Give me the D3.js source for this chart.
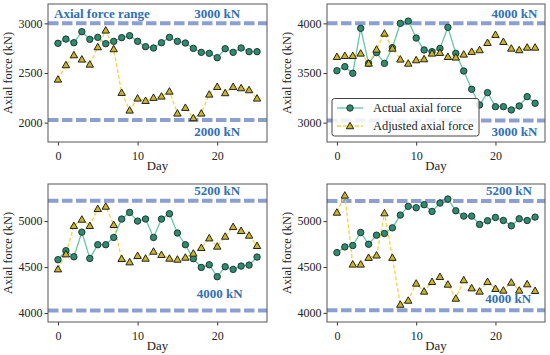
<!DOCTYPE html>
<html><head><meta charset="utf-8">
<script src="https://cdn.jsdelivr.net/npm/d3@7"></script>
<style>body{margin:0;background:#fff}svg{display:block}text{font-family:"Liberation Serif","Times New Roman",serif}</style>
</head><body><svg id="c" width="550" height="355"></svg>
<script>
const days = d3.range(0, 26);
const actual1 = [2799,2842,2805,2916,2839,2859,2795,2819,2856,2876,2819,2765,2752,2805,2859,2819,2802,2748,2708,2698,2654,2745,2708,2752,2715,2715];
const adjusted1 = [2436,2581,2681,2638,2587,2762,2930,2742,2302,2124,2245,2221,2252,2265,2315,2094,2151,2047,2094,2285,2362,2299,2362,2349,2329,2245];
const actual2 = [3523,3564,3497,3950,3597,3705,3597,3755,4000,4023,3852,3732,3715,3748,3960,3698,3520,3336,3178,3302,3161,3161,3128,3168,3262,3195];
const adjusted2 = [3664,3674,3674,3698,3597,3738,3899,3748,3638,3597,3631,3641,3698,3705,3664,3658,3688,3715,3732,3805,3886,3815,3748,3732,3758,3758];
const actual3 = [4580,4678,4612,4880,4594,4743,4743,4822,5022,5094,5000,5022,4822,5022,5080,4870,4743,4591,4496,4525,4395,4504,4475,4511,4522,4609];
const adjusted3 = [4478,4641,4949,5018,4949,5134,5159,4960,4591,4554,4623,4594,4670,4634,4594,4583,4605,4649,4710,4815,4725,4833,4938,4895,4844,4732];
const actual4 = [4657,4719,4734,4876,4748,4847,4865,4927,5066,5161,5146,5179,5106,5197,5241,5113,5055,5055,4964,5004,5040,5007,4949,5026,5007,5044];
const adjusted4 = [5095,5281,4529,4529,4602,4628,5088,4602,4091,4135,4321,4234,4339,4394,4310,4157,4358,4270,4234,4339,4263,4245,4332,4245,4314,4241];
const upperLimits = [3000, 4000, 5220, 5220];
const lowerLimits = [2027, 3022, 4028, 4028];
const upperLabels = ["3000 kN", "4000 kN", "5200 kN", "5200 kN"];
const lowerLabels = ["2000 kN", "3000 kN", "4000 kN", "4000 kN"];
const yTicks1 = [2000, 2500, 3000];
const yTicks2 = [3000, 3500, 4000];
const yTicks3 = [4000, 4500, 5000];
const yTicks4 = [4000, 4500, 5000];
const xTicks = [0, 10, 20];
const yDomains = [[1805, 3195], [2805, 4195], [3903, 5403], [3900, 5405]];
const seriesNames = ["Actual axial force", "Adjusted axial force"];
const rangeTitle = "Axial force range";

const svg = d3.select("#c");
const actualColor = "#66c5a6", actualFill = "#2f8a70";
const adjColor = "#f3d447", adjFill = "#cbb61e";
const limitColor = "#8b9fd1", annColor = "#2f6fb3";

const panels = [
  {l:48, r:267, t:4, b:142, actual:actual1, adj:adjusted1, yt:yTicks1, ux:20, uoff:-5.7, lx:20, loff:16, title:true},
  {l:327, r:545, t:4, b:142, actual:actual2, adj:adjusted2, yt:yTicks2, ux:22.4, uoff:-5.7, lx:22.4, loff:15.3, legend:true},
  {l:48, r:267, t:184, b:322, actual:actual3, adj:adjusted3, yt:yTicks3, ux:20, uoff:-5.5, lx:20.3, loff:-13},
  {l:327, r:545, t:184, b:322, actual:actual4, adj:adjusted4, yt:yTicks4, ux:21.7, uoff:-5.7, lx:21.6, loff:-7}
];

function triangle(g, x, y) {
  const s = 3.7;
  g.append("path").attr("d", `M${x},${y - s}L${x + s},${y + s*0.75}L${x - s},${y + s*0.75}Z`)
    .attr("fill", adjFill).attr("stroke", "#222").attr("stroke-width", 1);
}

panels.forEach((p, i) => {
  const x = d3.scaleLinear().domain([-1.25, 26.25]).range([p.l, p.r]);
  const y = d3.scaleLinear().domain(yDomains[i]).range([p.b, p.t]);
  const g = svg.append("g");
  const clipId = "clip" + i;
  svg.append("clipPath").attr("id", clipId).append("rect")
    .attr("x", p.l).attr("y", p.t).attr("width", p.r - p.l).attr("height", p.b - p.t);
  const inner = g.append("g").attr("clip-path", `url(#${clipId})`);

  // axes
  const xa = g.append("g").attr("transform", `translate(0,${p.b})`)
    .call(d3.axisBottom(x).tickValues(xTicks).tickSize(3.5).tickPadding(3).tickFormat(d3.format("d")));
  const ya = g.append("g").attr("transform", `translate(${p.l},0)`)
    .call(d3.axisLeft(y).tickValues(p.yt).tickSize(3.5).tickPadding(2).tickFormat(d3.format("d")));
  [xa, ya].forEach(a => {
    a.select(".domain").remove();
    a.selectAll("line").attr("stroke", "#333");
    a.selectAll("text").attr("font-size", 12).attr("fill", "#222");
  });
  xa.selectAll("text").attr("dy", "0.95em");

  // limit lines
  [upperLimits[i], lowerLimits[i]].forEach(v => {
    inner.append("line").attr("x1", p.l).attr("x2", p.r).attr("y1", y(v)).attr("y2", y(v))
      .attr("stroke", limitColor).attr("stroke-width", 4).attr("stroke-dasharray", "10.5,3.5");
  });

  // series lines
  const line = d3.line().x((d, j) => x(days[j])).y(d => y(d));
  inner.append("path").datum(p.actual).attr("d", line).attr("fill", "none")
    .attr("stroke", actualColor).attr("stroke-width", 1.3);
  inner.append("path").datum(p.adj).attr("d", line).attr("fill", "none")
    .attr("stroke", adjColor).attr("stroke-width", 1.3).attr("stroke-dasharray", "4,2");
  p.actual.forEach((v, j) => {
    inner.append("circle").attr("cx", x(days[j])).attr("cy", y(v)).attr("r", 3.2)
      .attr("fill", actualFill).attr("stroke", "#1d3a33").attr("stroke-width", 1);
  });
  p.adj.forEach((v, j) => triangle(inner, x(days[j]), y(v)));

  // frame
  g.append("rect").attr("x", p.l).attr("y", p.t).attr("width", p.r - p.l).attr("height", p.b - p.t)
    .attr("fill", "none").attr("stroke", "#555").attr("stroke-width", 1);

  // annotations
  g.append("text").attr("x", x(p.ux)).attr("y", y(upperLimits[i]) + p.uoff).attr("text-anchor", "middle")
    .attr("font-weight", "bold").attr("font-size", 13).attr("fill", annColor).text(upperLabels[i]);
  g.append("text").attr("x", x(p.lx)).attr("y", y(lowerLimits[i]) + p.loff).attr("text-anchor", "middle")
    .attr("font-weight", "bold").attr("font-size", 13).attr("fill", annColor).text(lowerLabels[i]);
  if (p.title) {
    g.append("text").attr("x", p.l + 6).attr("y", y(upperLimits[i]) + p.uoff)
      .attr("font-weight", "bold").attr("font-size", 13).attr("fill", annColor).text(rangeTitle);
  }

  // axis titles
  g.append("text").attr("x", (p.l + p.r) / 2).attr("y", p.b + 28).attr("text-anchor", "middle")
    .attr("font-size", 12.8).attr("fill", "#222").text("Day");
  g.append("text").attr("transform", `translate(${p.l - 36},${(p.t + p.b) / 2}) rotate(-90)`)
    .attr("text-anchor", "middle").attr("font-size", 12.3).attr("fill", "#222").text("Axial force (kN)");

  // legend
  if (p.legend) {
    const lg = g.append("g");
    lg.append("rect").attr("x", p.l + 5).attr("y", p.b - 43.5).attr("width", 147).attr("height", 37.5)
      .attr("rx", 2.5).attr("fill", "rgba(255,255,255,0.85)").attr("stroke", "#444").attr("stroke-width", 1);
    const rows = [p.b - 34, p.b - 16];
    lg.append("line").attr("x1", p.l + 10).attr("x2", p.l + 36).attr("y1", rows[0]).attr("y2", rows[0])
      .attr("stroke", actualColor).attr("stroke-width", 1.3);
    lg.append("circle").attr("cx", p.l + 23).attr("cy", rows[0]).attr("r", 3.2)
      .attr("fill", actualFill).attr("stroke", "#1d3a33").attr("stroke-width", 1);
    lg.append("line").attr("x1", p.l + 10).attr("x2", p.l + 36).attr("y1", rows[1]).attr("y2", rows[1])
      .attr("stroke", adjColor).attr("stroke-width", 1.3).attr("stroke-dasharray", "4,2");
    triangle(lg, p.l + 23, rows[1]);
    seriesNames.forEach((n, k) => {
      lg.append("text").attr("x", p.l + 46).attr("y", rows[k] + 4.3).attr("font-size", 12.4)
        .attr("fill", "#222").text(n);
    });
  }
});
</script></body></html>
